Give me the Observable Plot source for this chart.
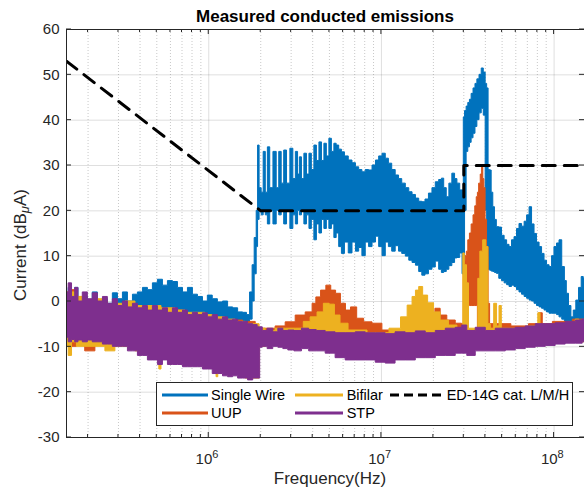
<!DOCTYPE html>
<html><head><meta charset="utf-8">
<script src="https://cdn.jsdelivr.net/npm/d3@7"></script>
<script src="https://cdn.jsdelivr.net/npm/@observablehq/plot@0.6"></script>
<style>
body{margin:0;background:#fff;font-family:"Liberation Sans",Arial,sans-serif;}
#wrap{position:relative;width:584px;height:495px;overflow:hidden;background:#fff}
#legend{position:absolute;left:156px;top:382px;width:417px;height:44px;box-sizing:border-box;border:1px solid #262626;background:#fff;}
.lt{position:absolute;height:18px;line-height:18px;font-size:14.5px;color:#000;white-space:nowrap}
.ls{position:absolute;}
</style></head>
<body><div id="wrap"></div>
<script>
// ---- data: [frequency Hz, lower envelope dBuA, upper envelope dBuA] ----
const singleWire = [
[1.51e5,-7,1],[1.58e5,-9,3],[1.65e5,-5,2],[1.72e5,-8.5,3],[1.8e5,-6,0],[1.93e5,-7,1],[2.06e5,-6,-1],[2.2e5,-7,2],
[2.36e5,-6,0],[2.52e5,-7,0.5],[2.69e5,-6,-0.5],[2.88e5,-7,1.8],[3.08e5,-6,0.5],[3.29e5,-6,2],[3.52e5,-7,0],[3.76e5,-6,1.5],
[4.02e5,-6,2],[4.3e5,-6,3],[4.59e5,-6,2.5],[4.91e5,-6,4],[5.25e5,-6,4.8],[5.61e5,-6,3.5],[6.0e5,-6,4.5],[6.41e5,-6,4.3],
[6.86e5,-6,3],[7.33e5,-5,2],[7.83e5,-5,3],[8.37e5,-5,1.5],[8.95e5,-5,1],[9.57e5,-5,0],[1.02e6,-5,1.3],[1.09e6,-5,0.5],
[1.17e6,-5,-0.2],[1.25e6,-5,0],[1.34e6,-5,-1.3],[1.43e6,-5,-1.5],[1.53e6,-5,-2.4],[1.63e6,-5,-2.5],[1.70e6,-5,-3],
[1.77e6,-4,2],[1.82e6,0,8],[1.87e6,6,14],[1.92e6,12,20],[1.94e6,18,34.4],
[2.0e6,20,25],[2.05e6,19,24],[2.11e6,20,33],[2.17e6,19,24],[2.23e6,17,34],[2.31e6,20,25],[2.43e6,17,33],[2.52e6,20,25],
[2.6e6,19,33],[2.69e6,20,26],[2.78e6,17,33.3],[2.9e6,20,26],[3.04e6,16,33.7],[3.14e6,19,27],[3.25e6,17,33],[3.33e6,20,28],
[3.41e6,19,31.8],[3.52e6,20,27],[3.64e6,17,32.6],[3.77e6,19,28],[3.89e6,16,32.6],[4.02e6,18,29],[4.16e6,13.5,34.4],
[4.3e6,17,31],[4.45e6,15,35.1],[4.6e6,18,31],[4.75e6,16,34.8],[4.91e6,18,32],[5.08e6,16,35.9],[5.25e6,17,33],[5.43e6,14,34.8],
[5.58e6,15,34.4],[5.81e6,12,33.5],[6.0e6,10.5,32.9],[6.3e6,13,32],[6.64e6,10.6,31.1],[6.96e6,13,30.5],[7.28e6,11,29.6],
[7.59e6,11.8,29],[7.93e6,10,28.5],[8.3e6,13,29],[8.67e6,12,28.9],[9.1e6,13,30],[9.5e6,14.3,31.1],[9.91e6,12,32],
[1.04e7,10,32.6],[1.08e7,13,31.5],[1.13e7,12,30.4],[1.18e7,11,29],[1.24e7,12.2,27.8],[1.29e7,11,27],[1.35e7,10.5,26],
[1.42e7,9.9,25],[1.48e7,9,24.1],[1.55e7,8.5,23.5],[1.62e7,7.9,22.7],[1.69e7,6.5,22],[1.76e7,5.7,21.9],[1.84e7,6,22.5],
[1.93e7,7,23.8],[2.02e7,7.5,25],[2.11e7,8.8,26.3],[2.21e7,7,26.8],[2.27e7,6.3,27.1],[2.35e7,6.5,25],[2.43e7,7,23],
[2.52e7,7.8,26],[2.63e7,8.5,28.2],[2.71e7,9.5,27],[2.8e7,9.6,26],[2.92e7,10.6,24.5],[2.98e7,6,24.5],
[3.02e7,6,40.6],[3.08e7,20,42],[3.15e7,33,43],[3.22e7,34,43.8],[3.29e7,35,44.5],[3.37e7,36,45.8],[3.46e7,37,47],[3.55e7,38.5,48],
[3.64e7,40,49],[3.76e7,41.5,50],[3.86e7,42.5,51.4],[3.97e7,41,50.5],[4.06e7,20,48],[4.13e7,10,47],[4.22e7,7,29],[4.3e7,6.8,28.9],
[4.4e7,6.6,24],[4.49e7,6.5,20.8],[4.6e7,6.3,18],[4.72e7,6.1,16.4],[4.91e7,5,16.3],[5.08e7,4.5,14.5],[5.26e7,4,13.5],[5.43e7,3.6,12.5],
[5.61e7,3.2,12],[5.8e7,3.5,13.5],[6.0e7,3.2,14.2],[6.2e7,2.5,16],[6.41e7,2,17.1],[6.64e7,1.5,16.5],[6.86e7,1,17.6],[7.1e7,0.6,19],
[7.33e7,0.2,20.8],[7.58e7,0,17],[7.83e7,-0.5,14.9],[8.1e7,-1,13],[8.38e7,-1.3,12],[8.66e7,-1.6,10.5],[8.95e7,-2,9],[9.26e7,-2.4,8],
[9.57e7,-2.7,7.6],[9.9e7,-2.7,10],[1.02e8,-2.7,12],[1.06e8,-3,12.8],[1.09e8,-3.5,13.5],[1.14e8,-4,7.6],[1.17e8,-4.5,4.5],
[1.2e8,-4.9,1.7],[1.24e8,-5.3,-1],[1.28e8,-5.7,-3.5],[1.32e8,-5.5,-2],[1.37e8,-5,0.2],[1.42e8,-4.6,3],[1.47e8,-4.2,5.4],[1.5e8,-4,5]
];
const uup = [
[1.51e5,-9,2],[1.65e5,-10,2.5],[1.8e5,-9,1],[2.06e5,-11,0],[2.36e5,-9,0],[2.88e5,-9,-1],[3.52e5,-9,-1.5],[4.3e5,-9,-1.5],
[5.25e5,-10,-2],[6.41e5,-10,-2],[7.83e5,-11,-3.5],[9.57e5,-11,-3.5],[1.17e6,-11,-4],[1.43e6,-11,-4.2],[1.75e6,-11,-4.5],
[2.0e6,-10,-6],[2.28e6,-9,-6],[2.61e6,-9,-5.5],[2.98e6,-9,-4.6],[3.41e6,-9,-3.1],[3.89e6,-9,-2.4],[4.1e6,-9,-0.5],[4.3e6,-9,0.9],
[4.65e6,-9,2.4],[4.95e6,-9,3.5],[5.3e6,-9,2.4],[5.63e6,-9,1.7],[6.03e6,-9,-0.5],[6.44e6,-9,-2],[6.9e6,-9,-1.3],
[7.59e6,-9,-3.8],[8.3e6,-9,-4.6],[9.5e6,-9,-4.9],[1.08e7,-9,-6.4],[1.3e7,-9,-7],[1.7e7,-9,-7],[2.0e7,-9,-4],[2.11e7,-9,-1.6],
[2.3e7,-9,-3.1],[2.52e7,-9,-4.2],[2.88e7,-9,-4.9],[2.98e7,-9,-5],[3.02e7,-9,7],[3.05e7,-9,9],[3.1e7,-9,10],[3.15e7,-9,11],
[3.22e7,-1,13.5],[3.29e7,-1,15],[3.37e7,-1,17],[3.46e7,-1,19],[3.53e7,-1,21],[3.6e7,-1,23],[3.64e7,-9,24],[3.72e7,-9,26],
[3.8e7,-9,28],[3.86e7,-9,29.6],[3.92e7,-9,27],[3.97e7,-9,25],[4.05e7,-9,18],[4.13e7,-9,12],[4.22e7,-9,-0.5],
[4.3e7,-9,-5],[5.0e7,-9,-5],[6.4e7,-9,-5.5],[8.0e7,-9,-5],[8.4e7,-9,-2.6],[8.8e7,-9,-5],[1.1e8,-9,-4.5],[1.5e8,-8,-4]
];
const bifilar = [
[1.51e5,-10,2],[1.58e5,-12,1],[1.65e5,-9,2],[1.8e5,-10,1],[2.06e5,-10,0],[2.36e5,-10,0.5],[2.69e5,-11,-1],[3.08e5,-10,-0.5],
[3.52e5,-10,0],[4.02e5,-11,-1],[4.59e5,-11,-1],[5.1e5,-12,-1],[5.25e5,-15,-1],[5.4e5,-12,-1.5],[6.0e5,-12,-1.5],
[6.86e5,-13,-2],[7.83e5,-13,-2.5],[8.95e5,-14,-2.5],[1.02e6,-13,-3],[1.1e6,-14,-3.5],[1.12e6,-16.7,-3.5],[1.15e6,-14,-3.5],
[1.34e6,-14,-4],[1.53e6,-15,-4.5],[1.75e6,-17,-5],[1.94e6,-17,-5],[2.0e6,-10,-6],[2.28e6,-9,-6.5],[2.61e6,-9,-6],
[2.98e6,-9,-6],[3.41e6,-9,-6],[3.7e6,-9,-4.5],[4.09e6,-9,-3.5],[4.45e6,-9,-2.4],[4.84e6,-9,-0.5],[5.19e6,-9,-0.7],
[5.57e6,-9,-3.1],[6.03e6,-9,-4.9],[6.9e6,-9,-6.4],[1.0e7,-9,-7],[1.24e7,-9,-6],[1.36e7,-9,-3.5],[1.48e7,-9,-0.9],
[1.55e7,-9,1],[1.62e7,-9,2.4],[1.69e7,-9,3.2],[1.8e7,-9,1.3],[1.93e7,-9,-0.4],[2.11e7,-9,-2.4],[2.3e7,-9,-4.2],[2.63e7,-9,-5.3],
[2.88e7,-9,-6.4],[2.96e7,-9,-6.4],[3.0e7,-9,10.6],[3.08e7,-9,8],[3.18e7,-9,4],[3.25e7,-9,-6],[3.6e7,-9,-6],[3.68e7,-9,5],
[3.8e7,-9,11],[3.97e7,-9,13.5],[4.13e7,-9,12],[4.2e7,-9,-5],[4.4e7,-9,-6],[4.6e7,-9,-0.5],[4.75e7,-9,-5.5],[4.91e7,-9,-1],
[5.05e7,-9,-6],[6.4e7,-9,-6],[8.0e7,-9,-5.5],[8.2e7,-9,-2.6],[8.5e7,-9,-5.5],[1.3e8,-9,-5],[1.37e8,-9,-4],[1.43e8,-9,-5],[1.5e8,-9,-5]
];
const stp = [
[1.51e5,-8,2],[1.58e5,-9,4],[1.65e5,-8.5,1],[1.72e5,-9,3],[1.8e5,-8.6,0],[1.93e5,-9,2],[2.06e5,-8.6,0.5],[2.2e5,-9,1.8],
[2.36e5,-9,0],[2.52e5,-9.5,1],[2.69e5,-9.5,-0.5],[2.88e5,-10,0.5],[3.08e5,-10,-1],[3.29e5,-10,0],[3.52e5,-11,-1.3],
[3.76e5,-11,-0.5],[4.02e5,-12,-1.5],[4.3e5,-12,-1],[4.59e5,-13,-2],[4.91e5,-13,-1],[5.25e5,-14,-2],[5.61e5,-13,-1.5],
[6.0e5,-14,-2.5],[6.41e5,-14,-1.5],[6.86e5,-14,-2.5],[7.33e5,-14.5,-2],[7.83e5,-14.5,-3],[8.37e5,-14.5,-2.5],[8.95e5,-14.5,-3],
[9.57e5,-15,-2.6],[1.02e6,-15,-3.5],[1.09e6,-16,-3],[1.17e6,-16,-4],[1.25e6,-16.5,-3.5],[1.34e6,-16.7,-4.2],[1.43e6,-16.5,-4],
[1.53e6,-17,-4.5],[1.63e6,-17,-4.5],[1.75e6,-17.4,-5],[1.87e6,-17,-5.2],[1.97e6,-17,-5.7],[2.0e6,-10.2,-5.7],[2.11e6,-10,-6.5],
[2.28e6,-10.5,-6],[2.45e6,-10,-6.8],[2.61e6,-10.2,-6],[2.8e6,-10.5,-6.5],[2.98e6,-10.8,-6.4],[3.3e6,-11,-6.5],[3.64e6,-10.5,-6],
[4.0e6,-11,-6.3],[4.45e6,-11,-6.5],[5.08e6,-11.5,-6.8],[5.8e6,-12.5,-7],[6.64e6,-13,-7],[7.59e6,-13,-6.8],[8.67e6,-13,-7],
[9.91e6,-13.5,-7],[1.13e7,-13.7,-7.2],[1.29e7,-13,-6.8],[1.48e7,-13,-7],[1.69e7,-12.5,-6.6],[1.93e7,-12.5,-7],[2.21e7,-12,-6.5],
[2.52e7,-12,-6],[2.88e7,-11.5,-5.8],[3.0e7,-11.5,-5.3],[3.29e7,-12,-6.5],[3.76e7,-11,-5.8],[4.3e7,-11,-6.5],[4.91e7,-11,-6],
[5.61e7,-10.8,-6],[6.41e7,-10.5,-5.8],[7.33e7,-10.2,-5.5],[8.38e7,-10,-5],[9.57e7,-9.8,-5],[1.09e8,-9.5,-4.8],[1.25e8,-9.3,-4.5],
[1.43e8,-9.3,-4.2],[1.5e8,-9,-4]
];
const limitFreq = [1.5e5, 2e6, 3e7, 3e7, 1.5e8];
const limitLevel = [53, 20, 20, 30, 30];

const seriesNames = ["Single Wire", "UUP", "Bifilar", "STP"];
const seriesColors = ["#0072BD", "#D95319", "#EDB120", "#7E2F8E"];
const limitName = "ED-14G cat. L/M/H";

const yTicks = [-30, -20, -10, 0, 10, 20, 30, 40, 50, 60];
const xMajor = [1e6, 1e7, 1e8];
const xMinor = [2e5,3e5,4e5,5e5,6e5,7e5,8e5,9e5,2e6,3e6,4e6,5e6,6e6,7e6,8e6,9e6,2e7,3e7,4e7,5e7,6e7,7e7,8e7,9e7];
const titleText = "Measured conducted emissions";
const xLabel = "Frequency(Hz)";

// ---- chart ----
const seriesData = [singleWire, uup, bifilar, stp].map(a => a.map(([f, lo, hi]) => ({f, lo, hi})));
const limit = limitFreq.map((f, i) => ({f, v: limitLevel[i]}));
const ink = "#262626";

const chart = Plot.plot({
  width: 584, height: 495,
  marginTop: 29, marginRight: 0, marginBottom: 58, marginLeft: 66,
  style: {background: "#fff", fontFamily: "'Liberation Sans', Arial, sans-serif"},
  x: {type: "log", domain: [1.5e5, 1.5e8], axis: null},
  y: {domain: [-30, 60], axis: null},
  marks: [
    Plot.ruleY(yTicks, {stroke: ink, strokeOpacity: 0.15}),
    Plot.ruleX(xMajor, {stroke: ink, strokeOpacity: 0.15}),
    Plot.ruleX(xMinor, {stroke: ink, strokeOpacity: 0.25, strokeDasharray: "1,2"}),
    ...seriesData.map((d, i) => Plot.areaY(d, {x: "f", y1: "lo", y2: "hi", curve: "step", fill: seriesColors[i], stroke: seriesColors[i], strokeWidth: 1, clip: true})),
    Plot.line(limit, {x: "f", y: "v", stroke: "#000", strokeWidth: 3, strokeDasharray: "13,9", clip: true}),
    Plot.frame({stroke: ink, strokeWidth: 1}),
    Plot.text(yTicks, {y: d => d, text: d => String(d), frameAnchor: "left", dx: -7, textAnchor: "end", fontSize: 15, fill: ink}),
    Plot.text(xMajor, {x: d => d, text: () => "10", frameAnchor: "bottom", dy: 26, dx: 3.5, textAnchor: "end", fontSize: 15, fill: ink}),
    Plot.text(xMajor, {x: d => d, text: d => String(Math.round(Math.log10(d))), frameAnchor: "bottom", dy: 20, dx: 3.5, textAnchor: "start", fontSize: 11, fill: ink})
  ]
});

const sx = chart.scale("x"), sy = chart.scale("y");
const svg = d3.select(chart);
const tg = svg.append("g").attr("stroke", ink).attr("stroke-width", 1);
const X0 = sx.apply(1.5e5), X1 = sx.apply(1.5e8), Y0 = sy.apply(-30), Y1 = sy.apply(60);
for (const t of yTicks) {
  const y = sy.apply(t);
  tg.append("line").attr("x1", X0).attr("x2", X0 + 5).attr("y1", y).attr("y2", y);
  tg.append("line").attr("x1", X1).attr("x2", X1 - 5).attr("y1", y).attr("y2", y);
}
for (const t of xMajor) {
  const x = sx.apply(t);
  tg.append("line").attr("x1", x).attr("x2", x).attr("y1", Y0).attr("y2", Y0 - 5);
  tg.append("line").attr("x1", x).attr("x2", x).attr("y1", Y1).attr("y2", Y1 + 5);
}
for (const t of xMinor) {
  const x = sx.apply(t);
  tg.append("line").attr("x1", x).attr("x2", x).attr("y1", Y0).attr("y2", Y0 - 3);
  tg.append("line").attr("x1", x).attr("x2", x).attr("y1", Y1).attr("y2", Y1 + 3);
}
svg.append("text").attr("x", 325).attr("y", 21.7).attr("text-anchor", "middle")
  .attr("font-size", 17).attr("font-weight", "bold").attr("fill", "#000").text(titleText);
svg.append("text").attr("x", 330).attr("y", 483.5).attr("text-anchor", "middle")
  .attr("font-size", 17).attr("fill", ink).text(xLabel);
const yl = svg.append("text").attr("transform", "translate(26,245) rotate(-90)").attr("text-anchor", "middle")
  .attr("font-size", 17).attr("fill", ink);
yl.append("tspan").text("Current (dB");
yl.append("tspan").attr("dy", 3).attr("font-size", 13).attr("font-style", "italic").text("\u03bc");
yl.append("tspan").attr("dy", -3).text("A)");

const wrap = document.getElementById("wrap");
wrap.appendChild(chart);

// ---- legend ----
const leg = document.createElement("div");
leg.id = "legend";
wrap.appendChild(leg);
const legItems = [
  {name: seriesNames[0], color: seriesColors[0], lx: 4.7, lw: 46.6, tx: 54, cy: 11.7, dash: null},
  {name: seriesNames[1], color: seriesColors[1], lx: 4.7, lw: 46.6, tx: 54, cy: 30, dash: null},
  {name: seriesNames[2], color: seriesColors[2], lx: 138, lw: 48, tx: 189.7, cy: 11.7, dash: null},
  {name: seriesNames[3], color: seriesColors[3], lx: 138, lw: 48, tx: 189.7, cy: 30, dash: null},
  {name: limitName, color: "#000", lx: 233, lw: 53, tx: 289.7, cy: 11.7, dash: "9,5"}
];
for (const it of legItems) {
  const s = document.createElementNS("http://www.w3.org/2000/svg", "svg");
  s.setAttribute("class", "ls");
  s.setAttribute("width", it.lw); s.setAttribute("height", 6);
  s.style.left = it.lx + "px"; s.style.top = (it.cy - 3) + "px";
  const l = document.createElementNS("http://www.w3.org/2000/svg", "line");
  l.setAttribute("x1", 0); l.setAttribute("x2", it.lw); l.setAttribute("y1", 3); l.setAttribute("y2", 3);
  l.setAttribute("stroke", it.color); l.setAttribute("stroke-width", 3);
  if (it.dash) l.setAttribute("stroke-dasharray", it.dash);
  s.appendChild(l);
  leg.appendChild(s);
  const t = document.createElement("div");
  t.className = "lt"; t.textContent = it.name;
  t.style.left = it.tx + "px"; t.style.top = (it.cy - 9) + "px";
  leg.appendChild(t);
}
</script>
</body></html>
